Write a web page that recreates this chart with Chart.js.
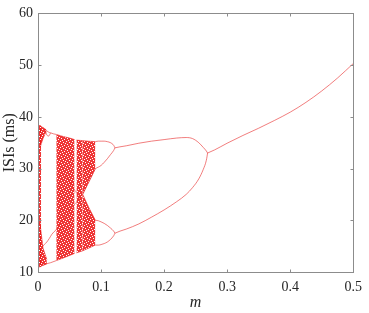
<!DOCTYPE html>
<html>
<head>
<meta charset="utf-8">
<script src="https://cdn.jsdelivr.net/npm/chart.js@4.4.1/dist/chart.umd.min.js"></script>
<style>
  html, body { margin: 0; padding: 0; background: #fff; }
  #c { display: block; }
</style>
</head>
<body>
<canvas id="c" width="369" height="313"></canvas>
<script>
// axis ticks
const xTicks = [0, 0.1, 0.2, 0.3, 0.4, 0.5];
const yTicks = [10, 20, 30, 40, 50, 60];

// period-1 branch
const mP1 = [0.269, 0.28, 0.3, 0.325, 0.35, 0.375, 0.4, 0.425, 0.45, 0.475, 0.5];
const isiP1 = [33.0, 33.6, 34.9, 36.4, 37.8, 39.3, 40.9, 42.8, 45.0, 47.5, 50.3];

// period-2 branches
const mP2 = [0.122, 0.13, 0.14, 0.16, 0.18, 0.2, 0.22, 0.235, 0.245, 0.255, 0.262, 0.267, 0.269];
const isiP2Hi = [34.0, 34.2, 34.4, 34.9, 35.3, 35.6, 35.9, 36.0, 35.8, 35.0, 34.1, 33.4, 33.0];
const isiP2Lo = [17.5, 17.9, 18.3, 19.3, 20.6, 22.0, 23.6, 25.0, 26.3, 28.0, 29.8, 31.6, 33.0];

// period-4 branches
const mP4 = [0.091, 0.096, 0.1, 0.105, 0.11, 0.115, 0.12, 0.122];
const isiP4a = [35.2, 35.3, 35.3, 35.3, 35.2, 35.0, 34.5, 34.0];
const isiP4b = [30.0, 30.3, 30.6, 31.2, 31.9, 32.7, 33.5, 34.0];
const isiP4c = [20.0, 19.9, 19.7, 19.4, 19.0, 18.5, 17.9, 17.5];
const isiP4d = [15.2, 15.2, 15.3, 15.5, 15.8, 16.3, 17.0, 17.5];

// periodic window near m = 0.01 - 0.03
const mWinTop = [0.008, 0.012, 0.016, 0.02, 0.025, 0.029];
const isiWinTop = [37.9, 37.5, 37.1, 36.9, 36.7, 36.6];
const mWinLoop = [0.011, 0.014, 0.017, 0.02];
const isiWinLoop = [37.6, 36.5, 36.3, 36.9];
const mWinBot = [0.008, 0.014, 0.02, 0.029];
const isiWinBot = [11.3, 11.6, 11.8, 12.2];
const mWinMid = [0.006, 0.01, 0.014, 0.018, 0.022, 0.029];
const isiWinMid = [14.8, 15.3, 15.8, 16.5, 17.3, 18.2];

// denser crossing lines inside the chaotic band
const mCross1 = [0.029, 0.04, 0.055, 0.066, 0.08, 0.091];
const isiCross1 = [18.2, 20.2, 22.6, 24.3, 27.2, 30.0];
const mCross2 = [0.045, 0.055, 0.066, 0.08, 0.091];
const isiCross2 = [28.5, 26.5, 24.3, 21.7, 19.8];

// chaotic bands: lower and upper edges
const mBandA = [0, 0.003, 0.005];
const loBandA = [11.0, 11.0, 11.1];
const hiBandA = [38.4, 38.3, 38.2];
const mLobeTop = [0.003, 0.008, 0.013];
const loLobeTop = [34.0, 35.8, 37.2];
const hiLobeTop = [38.3, 37.9, 37.5];
const mLobeBot = [0.003, 0.008, 0.014];
const loLobeBot = [11.0, 11.3, 11.6];
const hiLobeBot = [19.5, 14.6, 12.4];
const mBandB = [0.029, 0.04, 0.05, 0.058];
const loBandB = [12.2, 12.7, 13.2, 13.6];
const hiBandB = [36.6, 36.2, 35.9, 35.6];
const mBandC = [0.061, 0.066, 0.071];
const loBandC = [13.7, 13.9, 14.1];
const hiBandC = [35.5, 35.45, 35.4];
const mBandDu = [0.071, 0.08, 0.091];
const loBandDu = [25.0, 27.3, 30.0];
const hiBandDu = [35.4, 35.3, 35.2];
const mBandDl = [0.071, 0.08, 0.091];
const loBandDl = [14.1, 14.6, 15.2];
const hiBandDl = [25.0, 22.6, 20.0];

const FONT = "'Liberation Serif', 'Times New Roman', Times, serif";
const LINE = 'rgba(232,40,40,0.6)';
const DENSE = 'rgba(215,0,0,0.35)';
const EDGE = 'rgba(235,20,20,0.8)';

// speckled fill for the chaotic bands (fixed tile, styling only)
function speckle() {
    const t = document.createElement('canvas');
    t.width = 6; t.height = 6;
    const g = t.getContext('2d');
    g.fillStyle = 'rgba(236,20,20,0.85)';
    g.fillRect(0, 0, 6, 6);
    [[1, 0], [4, 1], [0, 3], [3, 4], [5, 5], [2, 2]].forEach(p => g.clearRect(p[0], p[1], 1, 1));
    return g.createPattern(t, 'repeat');
}
const FILL = speckle();

function pts(ms, vs) {
    return ms.map((m, i) => ({ x: m, y: vs[i] }));
}
function branch(ms, vs, color) {
    return {
        data: pts(ms, vs),
        borderColor: color || LINE,
        borderWidth: 1,
        pointRadius: 0,
        cubicInterpolationMode: 'monotone',
        fill: false
    };
}
function band(ms, lo, hi) {
    return [
        { data: pts(ms, lo), borderColor: EDGE, borderWidth: 0.7, pointRadius: 0, fill: false },
        { data: pts(ms, hi), borderColor: EDGE, borderWidth: 0.7, pointRadius: 0,
          fill: '-1', backgroundColor: FILL }
    ];
}

const datasets = [].concat(
    band(mBandA, loBandA, hiBandA),
    band(mLobeTop, loLobeTop, hiLobeTop),
    band(mLobeBot, loLobeBot, hiLobeBot),
    band(mBandB, loBandB, hiBandB),
    band(mBandC, loBandC, hiBandC),
    band(mBandDu, loBandDu, hiBandDu),
    band(mBandDl, loBandDl, hiBandDl),
    [
        branch(mP1, isiP1),
        branch(mP2, isiP2Hi),
        branch(mP2, isiP2Lo),
        branch(mP4, isiP4a),
        branch(mP4, isiP4b),
        branch(mP4, isiP4c),
        branch(mP4, isiP4d),
        branch(mWinTop, isiWinTop),
        branch(mWinLoop, isiWinLoop),
        branch(mWinBot, isiWinBot),
        branch(mWinMid, isiWinMid),
        branch(mCross1, isiCross1, DENSE),
        branch(mCross2, isiCross2, DENSE)
    ]
);

// frame and inward ticks on all four sides
const framePlugin = {
    id: 'frame',
    afterDraw(chart) {
        const ctx = chart.ctx;
        const a = chart.chartArea;
        const xs = chart.scales.x, ys = chart.scales.y;
        const L = Math.round(a.left) + 0.5, R = Math.round(a.right) + 0.5;
        const T = Math.round(a.top) + 0.5, B = Math.round(a.bottom) + 0.5;
        ctx.save();
        ctx.strokeStyle = '#8c8c8c';
        ctx.lineWidth = 1;
        ctx.strokeRect(L, T, R - L, B - T);
        ctx.beginPath();
        xTicks.forEach(v => {
            const px = Math.round(xs.getPixelForValue(v)) + 0.5;
            ctx.moveTo(px, B); ctx.lineTo(px, B - 3);
            ctx.moveTo(px, T); ctx.lineTo(px, T + 3);
        });
        yTicks.forEach(v => {
            const py = Math.round(ys.getPixelForValue(v)) + 0.5;
            ctx.moveTo(L, py); ctx.lineTo(L + 3, py);
            ctx.moveTo(R, py); ctx.lineTo(R - 3, py);
        });
        ctx.stroke();
        ctx.restore();
    }
};

new Chart(document.getElementById('c'), {
    type: 'line',
    data: { datasets: datasets },
    options: {
        responsive: false,
        animation: false,
        layout: { padding: { top: 6, right: 9, left: 0, bottom: 0 } },
        plugins: { legend: { display: false }, tooltip: { enabled: false } },
        scales: {
            x: {
                type: 'linear',
                min: 0, max: 0.5,
                afterBuildTicks: s => { s.ticks = xTicks.map(v => ({ value: v })); },
                afterFit: s => { s.height = 41; },
                grid: { display: false, drawTicks: false },
                border: { display: false },
                ticks: {
                    padding: 7,
                    color: '#262626',
                    font: { family: FONT, size: 14 },
                    maxRotation: 0,
                    callback: v => String(v)
                },
                title: {
                    display: true, text: 'm', color: '#262626',
                    padding: { top: 0, bottom: 1 },
                    font: { family: FONT, size: 16, style: 'italic' }
                }
            },
            y: {
                type: 'linear',
                min: 10, max: 60,
                afterBuildTicks: s => { s.ticks = yTicks.map(v => ({ value: v })); },
                afterFit: s => { s.width = 38; },
                grid: { display: false, drawTicks: false },
                border: { display: false },
                ticks: {
                    padding: 5,
                    color: '#262626',
                    font: { family: FONT, size: 14 },
                    callback: v => String(v)
                },
                title: {
                    display: true, text: 'ISIs (ms)', color: '#262626',
                    padding: { top: 0, bottom: 0 },
                    font: { family: FONT, size: 16 }
                }
            }
        }
    },
    plugins: [framePlugin]
});
</script>
</body>
</html>
